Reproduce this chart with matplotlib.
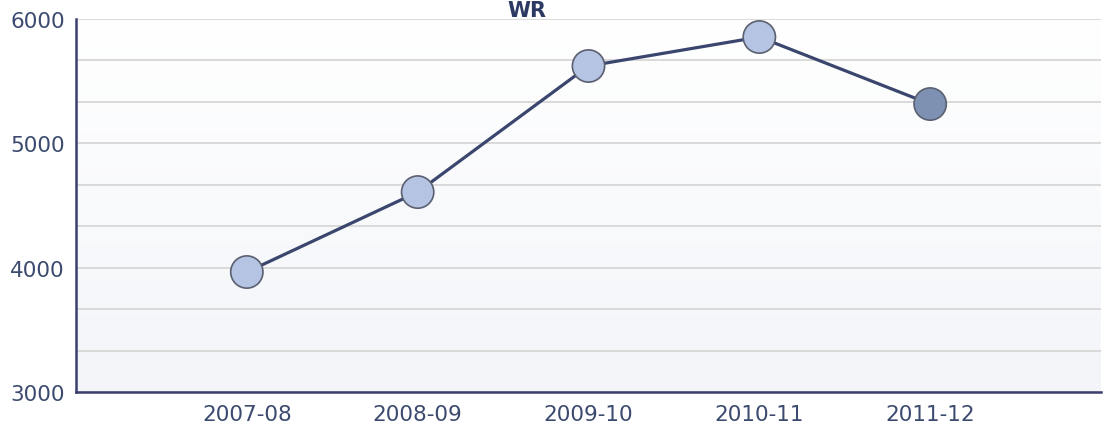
import numpy as np
import matplotlib
matplotlib.use("Agg")
import matplotlib.pyplot as plt
from matplotlib.ticker import MultipleLocator

# data
seasons = ["2007-08", "2008-09", "2009-10", "2010-11", "2011-12"]
wr_values = [3965, 4608, 5622, 5855, 5316]

title = "WR"
text_color = "#3b4a6e"
line_color = "#3b466e"

fig = plt.figure(figsize=(11.14, 4.31), dpi=100)
ax = fig.add_axes([76 / 1114, 1 - 393 / 431, (1101 - 76) / 1114, (393 - 20) / 431])

x = np.arange(len(seasons))

# faint vertical gradient behind the plot
grad = np.linspace(0, 1, 256).reshape(-1, 1)
ax.imshow(grad, extent=(-1, 5, 3000, 6000), aspect="auto", origin="lower",
          cmap=matplotlib.colors.LinearSegmentedColormap.from_list("bg", ["#f3f5f9", "#ffffff"]),
          zorder=0)

ax.plot(x, wr_values, color=line_color, lw=2.3, zorder=3)
marker_colors = ["#b4c4e2"] * 4 + ["#7f91b3"]
ax.scatter(x, wr_values, s=540, c=marker_colors, edgecolors="#5a6070", linewidths=1.2, zorder=4)

ax.set_xlim(-1, 5)
ax.set_ylim(3000, 6000)
ax.set_xticks(x)
ax.set_xticklabels(seasons)
ax.yaxis.set_major_locator(MultipleLocator(1000))
ax.yaxis.set_minor_locator(MultipleLocator(1000 / 3))
ax.grid(True, which="both", axis="y", color="#d4d4d4", lw=1.2, zorder=1)
ax.set_axisbelow(True)

for side in ["top", "right"]:
    ax.spines[side].set_visible(False)
for side in ["left", "bottom"]:
    ax.spines[side].set_color("#3a3f6c")
    ax.spines[side].set_linewidth(1.8)

ax.tick_params(axis="both", which="both", length=0, labelsize=15.5, colors=text_color)
ax.tick_params(axis="x", pad=9)
ax.tick_params(axis="y", pad=8)

fig.text(527 / 1114, 1 - 1 / 431, title, ha="center", va="top",
         fontsize=15, fontweight="bold", color="#2c3a63")

fig.savefig("out.png", dpi=100)
